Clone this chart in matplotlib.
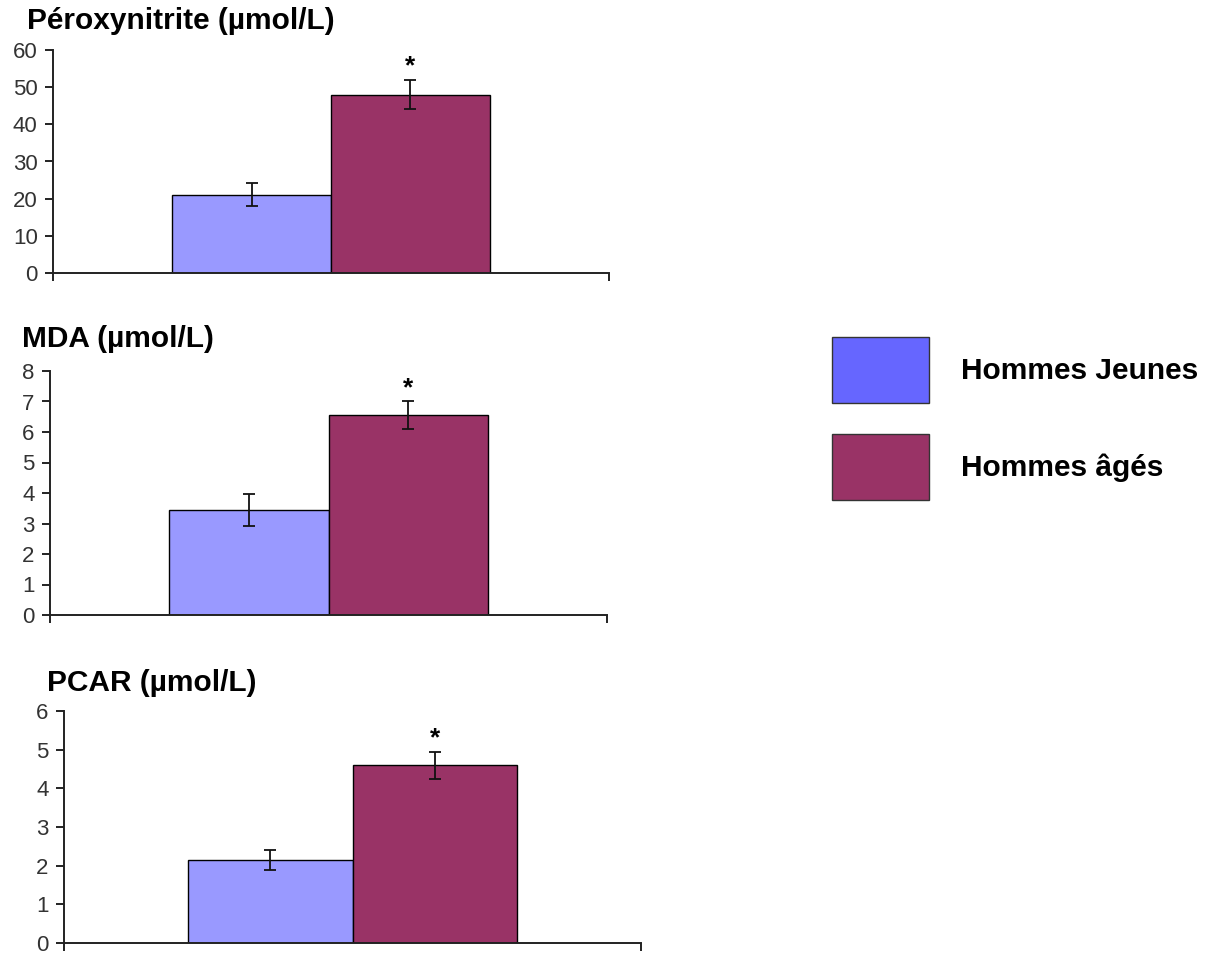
import matplotlib.pyplot as plt
from matplotlib.patches import Patch

plt.rcParams['font.family'] = ['Liberation Sans', 'DejaVu Sans']

titres = ['Péroxynitrite (µmol/L)', 'MDA (µmol/L)', 'PCAR (µmol/L)']
groupes = ['Hommes Jeunes', 'Hommes âgés']
jeunes = [21, 3.45, 2.15]
jeunes_err = [3.1, 0.52, 0.25]
ages = [48, 6.55, 4.6]
ages_err = [4.0, 0.45, 0.35]
y_max = [60, 8, 6]
y_pas = [10, 1, 1]

bleu = '#9999FF'
bleu_legende = '#6666FF'
bordeaux = '#993366'

W, H = 1209, 955
fig = plt.figure(figsize=(W / 100, H / 100), dpi=100)

# position des axes en pixels: gauche, droite, haut, bas
cadres = [(53, 609, 50, 273), (50, 607, 371, 615), (64, 641, 711, 943)]
titres_pos = [(27, 21), (22, 339), (47, 683)]

largeur = 1 / 3.5  # largeur d'intervalle 150 %

for i in range(3):
    g, d, h, b = cadres[i]
    ax = fig.add_axes([g / W, 1 - b / H, (d - g) / W, (b - h) / H])
    ax.bar(-largeur / 2, jeunes[i], width=largeur, color=bleu,
           edgecolor='black', linewidth=1, zorder=2)
    ax.bar(largeur / 2, ages[i], width=largeur, color=bordeaux,
           edgecolor='black', linewidth=1, zorder=2)
    ax.errorbar([-largeur / 2, largeur / 2], [jeunes[i], ages[i]],
                yerr=[jeunes_err[i], ages_err[i]], fmt='none', ecolor='#111111',
                elinewidth=1.3, capsize=4.5, capthick=1.3, zorder=3)
    ax.annotate('*', (largeur / 2, ages[i] + ages_err[i]),
                xytext=(0, 1), textcoords='offset points', ha='center',
                va='bottom', fontsize=19, fontweight='bold')
    ax.set_xlim(-0.5, 0.5)
    ax.set_ylim(0, y_max[i])
    ax.set_yticks(range(0, y_max[i] + 1, y_pas[i]))
    ax.set_xticks([-0.5, 0.5])
    ax.set_xticklabels([])
    for s in ['top', 'right']:
        ax.spines[s].set_visible(False)
    for s in ['left', 'bottom']:
        ax.spines[s].set_linewidth(1.4)
        ax.spines[s].set_color('#222222')
    ax.tick_params(axis='both', direction='out', length=6, width=1.4,
                   color='#222222')
    ax.tick_params(axis='y', labelsize=16, labelcolor='#333333', pad=5)
    ax.patch.set_alpha(0)
    tx, ty = titres_pos[i]
    fig.text(tx / W, 1 - ty / H, titres[i], fontsize=21.5, fontweight='bold',
             ha='left', va='center')

poignees = [Patch(facecolor=bleu_legende, edgecolor='#333333', linewidth=1),
            Patch(facecolor=bordeaux, edgecolor='#333333', linewidth=1)]
fig.legend(poignees, groupes, loc='upper left',
           bbox_to_anchor=(832 / W, 1 - 337 / H), borderaxespad=0,
           borderpad=0, frameon=False, handlelength=3.24, handleheight=3.02,
           labelspacing=1.04, handletextpad=1.07,
           prop={'size': 21.5, 'weight': 'bold'})

fig.savefig('out.png', dpi=100)
